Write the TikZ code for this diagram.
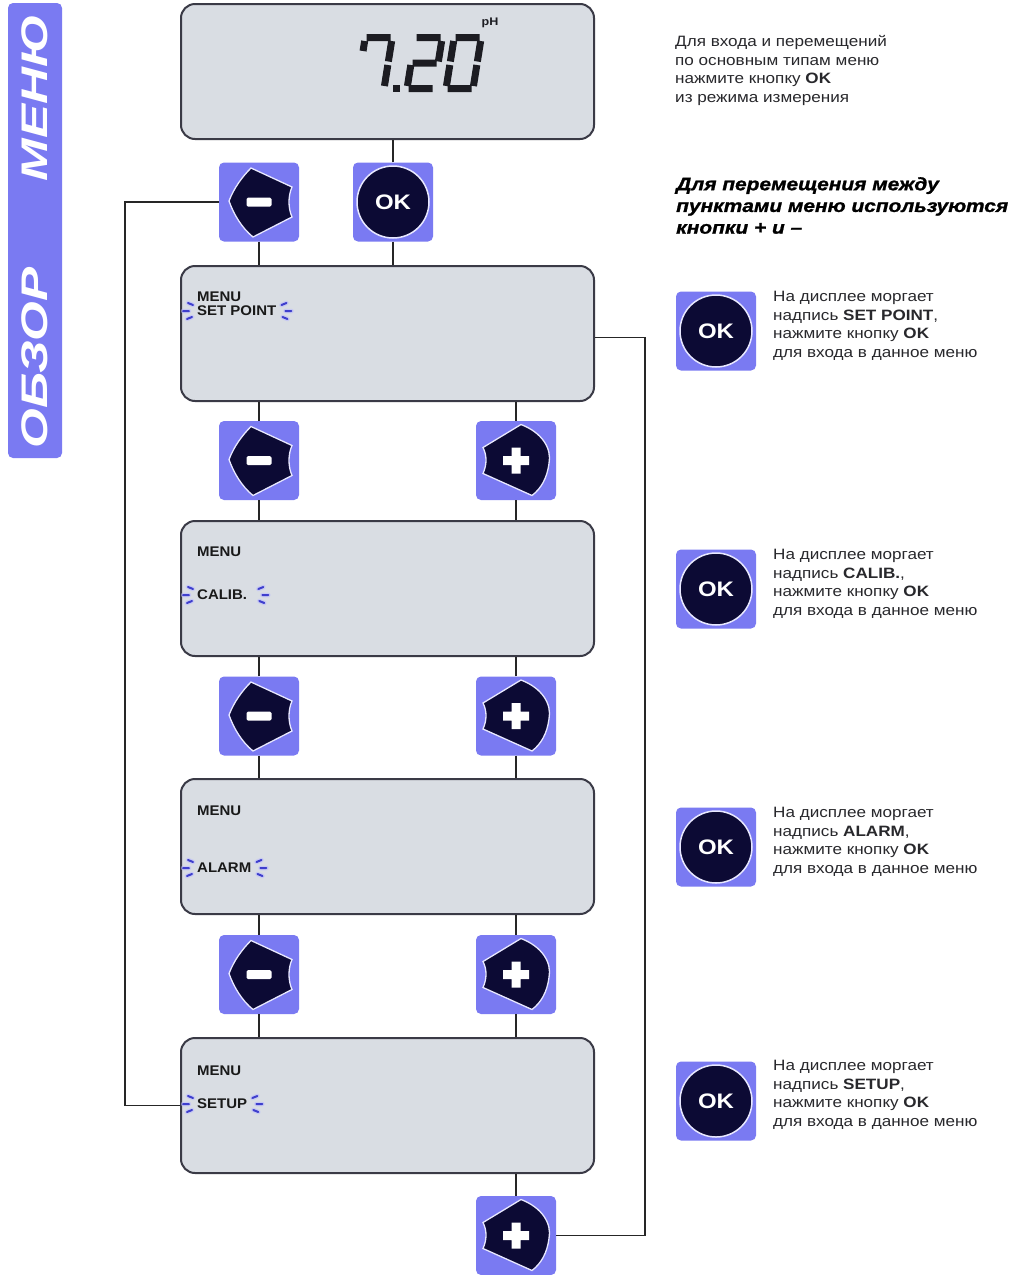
\documentclass[tikz,border=0pt]{standalone}
\usepackage{fontspec}
\usepackage{graphicx}
\setmainfont[FakeStretch=1.14]{Liberation Sans}
\newfontfamily\headfont[FakeStretch=1.16, FakeBold=1.2]{Liberation Sans}
\newfontfamily\tabfont[FakeStretch=1.38]{Liberation Sans}
\newfontfamily\lblfont[FakeStretch=1.07]{Liberation Sans}
\usetikzlibrary{calc}

\definecolor{lilac}{RGB}{122,122,242}
\definecolor{navy}{RGB}{12,10,52}
\definecolor{lcd}{RGB}{217,221,227}
\definecolor{lcdedge}{RGB}{58,58,70}
\definecolor{segcol}{RGB}{28,28,34}
\definecolor{blinkblue}{RGB}{62,62,205}
\definecolor{glow}{RGB}{185,185,255}
\definecolor{ring}{RGB}{232,232,255}
\definecolor{inktext}{RGB}{40,40,44}

% seven-segment pieces (local units, y up; digit 34 x 58, stroke 7)
\newcommand\dsa{(5,54.5)--(29,54.5) }
\newcommand\dsb{(30.5,51)--(30.5,30.5) }
\newcommand\dsc{(30.5,27)--(30.5,6) }
\newcommand\dsd{(5,3.5)--(29,3.5) }
\newcommand\dse{(3.5,27)--(3.5,6) }
\newcommand\dsf{(3.5,51)--(3.5,30.5) }
\newcommand\dsfs{(3.5,51)--(3.5,41) }
\newcommand\dsg{(5,29)--(29,29) }

\tikzset{
  lcdbox/.style={draw=lcdedge, line width=2pt, fill=lcd, rounded corners=14pt,
    minimum width=413pt, minimum height=135pt, inner sep=0pt, anchor=north west},
  keypad/.style={fill=lilac, rounded corners=5pt, minimum width=80pt,
    minimum height=79pt, inner sep=0pt},
  okdisc/.style={circle, fill=navy, draw=ring, line width=1.5pt, minimum size=72pt,
    inner sep=0pt, text=white, font=\bfseries\fontsize{21}{21}\selectfont},
  link/.style={draw=black!85, line width=1.6pt},
  lbl/.style={font=\lblfont\bfseries\fontsize{14}{14}\selectfont, inner sep=0pt,
    anchor=west, text=black!90},
  note/.style={font=\fontsize{15}{18.7}\selectfont, align=left, inner sep=0pt,
    anchor=north west, text=inktext},
  segline/.style={line width=7pt, draw=segcol, line cap=butt},
  digitat/.style={shift={(#1,92)}, yscale=-1, xslant=-0.16},
  minusglyph/.pic={
    \filldraw[fill=navy, draw=ring, line width=1.3pt]
      (-8,-34) -- (33,-15) .. controls (29,-6) and (29,6) .. (33,15) -- (-6,35)
      .. controls (-17,26) and (-25,13) .. (-30,-1)
      .. controls (-25,-14) and (-17,-25) .. (-8,-34) -- cycle;
    \fill[white, rounded corners=1.5pt] (-12.5,-4.5) rectangle (12.5,4.5);
  },
  plusglyph/.pic={
    \filldraw[fill=navy, draw=ring, line width=1.3pt]
      (5,-36) .. controls (26,-28) and (36,-12) .. (33,3)
      .. controls (31,18) and (25,28) .. (16,35) -- (-33,13)
      .. controls (-29,4) and (-29,-5) .. (-33,-13) -- cycle;
    \fill[white] (-13,-4.5) rectangle (13,4.5) (-4.5,-13) rectangle (4.5,13);
  },
  blinkmark/.pic={
    \draw[glow, line width=4.5pt, line cap=round, opacity=.55]
      (-7,-8) -- (-2,-6) (-12,0) -- (-6,0) (-8,8) -- (-3,6);
    \draw[blinkblue, line width=2pt, line cap=round]
      (-7,-8) -- (-2,-6) (-12,0) -- (-6,0) (-8,8) -- (-3,6);
  },
}

\begin{document}
\begin{tikzpicture}[x=1pt, y=-1pt]
\useasboundingbox (0,0) rectangle (1017,1275);
\fill[white] (0,0) rectangle (1017,1275);

% side tab
\fill[lilac, rounded corners=5pt] (8,3) rectangle (62,458);
\node[rotate=90, text=white, inner sep=0pt,
      font=\tabfont\bfseries\itshape\fontsize{37}{37}\selectfont] (tabmenu) at (35,98) {МЕНЮ};
\node[rotate=90, text=white, inner sep=0pt,
      font=\tabfont\bfseries\itshape\fontsize{37}{37}\selectfont] (tabview) at (35,358) {ОБЗОР};

% displays
\node[lcdbox] (d0) at (180,3) {};
\node[lcdbox] (d1) at (180,265) {};
\node[lcdbox] (d2) at (180,520) {};
\node[lcdbox] (d3) at (180,778) {};
\node[lcdbox] (d4) at (180,1037) {};

% reading 7.20 pH
\begin{scope}[digitat=353]
  \draw[segline] \dsa \dsb \dsc \dsfs;
\end{scope}
\begin{scope}[digitat=403]
  \draw[segline] \dsa \dsb \dsg \dse \dsd;
\end{scope}
\begin{scope}[digitat=442]
  \draw[segline] \dsa \dsb \dsc \dsd \dse \dsf;
\end{scope}
\fill[segcol] (393,85) rectangle (400,92);
\node[font=\bfseries\fontsize{11}{11}\selectfont, inner sep=0pt, text=segcol] (ph) at (490,23) {pH};

% menu labels
\node[lbl] (t1) at (197,297) {MENU};
\node[lbl] (s1) at (197,311) {SET POINT};
\node[lbl] (t2) at (197,552) {MENU};
\node[lbl] (s2) at (197,595) {CALIB.};
\node[lbl] (t3) at (197,811) {MENU};
\node[lbl] (s3) at (197,868) {ALARM};
\node[lbl] (t4) at (197,1071) {MENU};
\node[lbl] (s4) at (197,1104) {SETUP};
\foreach \s/\g in {s1/3, s2/9, s3/3, s4/3} {
  \pic at ($(\s.west)+(-2,0)$) {blinkmark};
  \pic[xscale=-1] at ($(\s.east)+(\g,0)$) {blinkmark};
}

% keys
\node[keypad] (m1) at (259,202) {};
\node[keypad] (ok0) at (393,202) {};
\node[okdisc] (ok0c) at (ok0) {OK};
\node[keypad] (m2) at (259,460.5) {};
\node[keypad] (p2) at (516,460.5) {};
\node[keypad] (m3) at (259,716) {};
\node[keypad] (p3) at (516,716) {};
\node[keypad] (m4) at (259,974.5) {};
\node[keypad] (p4) at (516,974.5) {};
\node[keypad] (p5) at (516,1235.5) {};
\foreach \k in {m1,m2,m3,m4} \pic at (\k) {minusglyph};
\foreach \k in {p2,p3,p4,p5} \pic at (\k) {plusglyph};

% connectors
\draw[link] (ok0.north) -- (ok0.north |- d0.south);
\draw[link] (ok0.south) -- (ok0.south |- d1.north);
\draw[link] (m1.south) -- (m1.south |- d1.north);
\foreach \k/\a/\b in {m2/d1/d2, p2/d1/d2, m3/d2/d3, p3/d2/d3, m4/d3/d4, p4/d3/d4} {
  \draw[link] (\k.north) -- (\k.north |- \a.south);
  \draw[link] (\k.south) -- (\k.south |- \b.north);
}
\draw[link] (p5.north) -- (p5.north |- d4.south);
\coordinate (lc) at (125,0);
\coordinate (rc) at (645,0);
\draw[link] (m1.west) -- (m1.west -| lc) |- (d4.west);
\draw[link] ([yshift=-4pt]d1.east) -- ([yshift=-4pt]d1.east -| rc) |- (p5.east);

% explanations
\node[note] (intro) at (675,35) {Для входа и перемещений\\по основным типам меню\\нажмите кнопку \textbf{OK}\\из режима измерения};
\node[inner sep=0pt, anchor=north west, align=left, text=black,
      font=\headfont\bfseries\itshape\fontsize{18}{21.7}\selectfont] (nav) at (676,177)
  {Для перемещения между\\пунктами меню используются\\кнопки + и –};

\node[keypad] (k1) at (716,331) {};
\node[okdisc] (k1c) at (k1) {OK};
\node[keypad] (k2) at (716,589) {};
\node[okdisc] (k2c) at (k2) {OK};
\node[keypad] (k3) at (716,847) {};
\node[okdisc] (k3c) at (k3) {OK};
\node[keypad] (k4) at (716,1101) {};
\node[okdisc] (k4c) at (k4) {OK};

\node[note] (n1) at (773,291) {На дисплее моргает\\надпись \textbf{SET POINT},\\нажмите кнопку \textbf{OK}\\для входа в данное меню};
\node[note] (n2) at (773,549) {На дисплее моргает\\надпись \textbf{CALIB.},\\нажмите кнопку \textbf{OK}\\для входа в данное меню};
\node[note] (n3) at (773,807) {На дисплее моргает\\надпись \textbf{ALARM},\\нажмите кнопку \textbf{OK}\\для входа в данное меню};
\node[note] (n4) at (773,1060) {На дисплее моргает\\надпись \textbf{SETUP},\\нажмите кнопку \textbf{OK}\\для входа в данное меню};
\end{tikzpicture}
\end{document}
